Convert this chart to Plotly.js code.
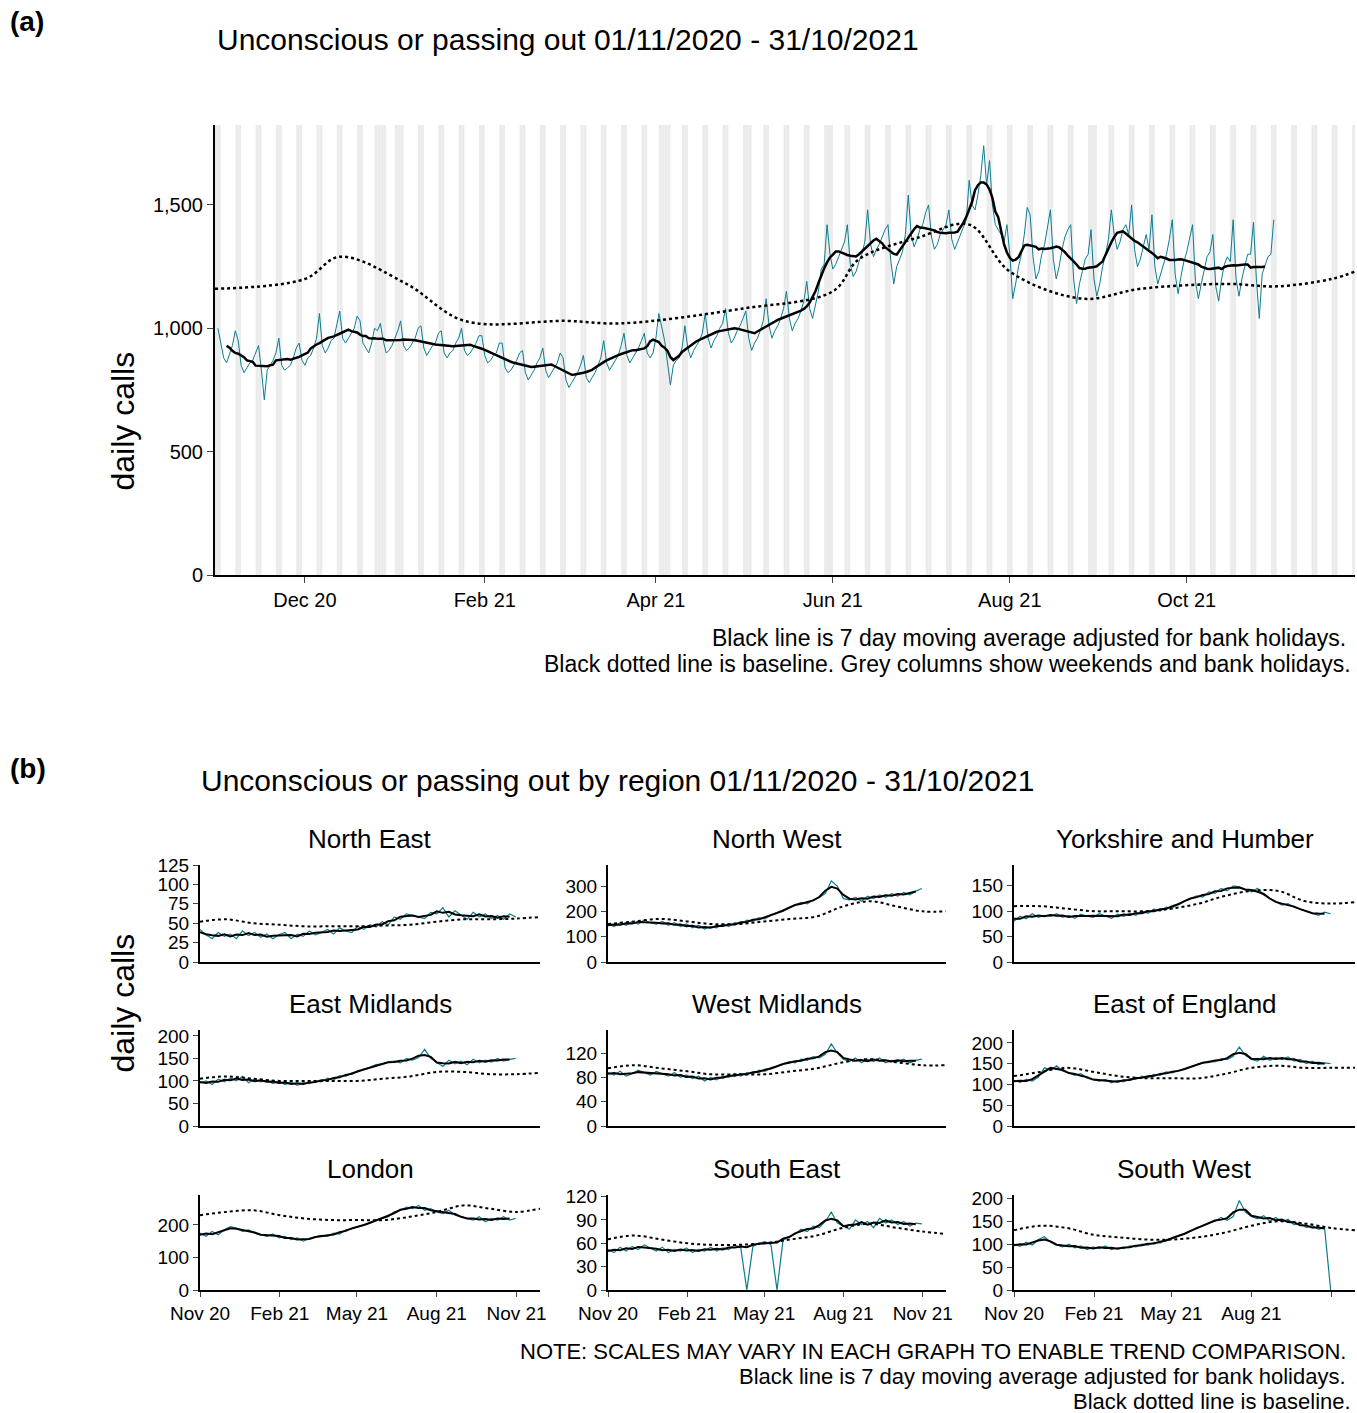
<!DOCTYPE html>
<html>
<head>
<meta charset="utf-8">
<script src="https://cdn.plot.ly/plotly-3.0.1.min.js"></script>
<style>body{margin:0;background:#fff}</style>
</head>
<body>
<div id="chart" style="width:1357px;height:1413px"></div>
<script>
// daily calls, week by week from Sun 01/11/2020
var dailyCalls = [
 1000,940,880,860,900,930,990, 950,850,820,840,860,870,900, 930,830,710,830,850,870,900,
 960,850,830,840,850,880,920, 940,870,850,880,890,920,960, 1060,930,900,920,950,960,1010,
 1070,960,940,960,980,1000,1050, 1030,940,920,900,940,1000,990, 1020,950,900,910,930,960,990,
 1030,930,910,920,940,960,1000, 1010,920,890,910,930,940,980, 990,900,880,900,910,940,960,
 1000,910,890,900,920,940,970, 970,890,860,870,890,900,940, 940,840,820,830,850,870,900,
 910,820,790,810,830,860,880, 920,830,800,820,840,860,900, 880,790,760,780,800,820,850,
 890,800,780,800,820,850,880, 950,860,830,850,870,890,930, 980,890,860,880,900,920,950,
 980,900,880,900,960,1060,1000, 950,860,770,850,870,880,920, 1010,920,880,910,930,950,980,
 1060,960,920,950,970,1000,1020, 1080,980,940,960,990,1010,1040, 1070,960,910,940,960,990,1030,
 1120,1010,960,990,1010,1040,1080, 1150,1040,990,1020,1040,1070,1110, 1190,1080,1040,1090,1150,1240,1260,
 1420,1300,1240,1260,1290,1320,1350, 1420,1260,1210,1230,1270,1300,1350, 1480,1340,1290,1320,1340,1370,1400,
 1420,1270,1180,1250,1280,1310,1380, 1540,1380,1330,1360,1400,1420,1470, 1500,1370,1320,1340,1380,1400,1420,
 1480,1360,1320,1350,1380,1410,1440, 1600,1500,1480,1540,1620,1740,1580, 1680,1500,1420,1400,1380,1350,1420,
 1300,1120,1180,1250,1300,1380,1490, 1460,1290,1200,1230,1300,1340,1420, 1480,1280,1200,1250,1320,1370,1400,
 1420,1200,1100,1180,1230,1280,1300, 1400,1200,1130,1180,1250,1300,1360, 1480,1380,1320,1350,1400,1420,1380,
 1500,1320,1250,1280,1330,1380,1320, 1460,1250,1180,1220,1260,1300,1360, 1440,1220,1140,1210,1270,1310,1370,
 1420,1190,1120,1180,1240,1290,1310, 1380,1170,1110,1200,1260,1290,1270, 1440,1200,1130,1200,1250,1300,1300,
 1430,1200,1040,1220,1260,1290,1300, 1440
];
var baselineDates = ['2020-10-31','2020-12-01','2020-12-13','2021-01-05','2021-01-25','2021-03-01','2021-03-20',
  '2021-05-01','2021-06-01','2021-06-10','2021-07-01','2021-07-18','2021-08-01','2021-08-26','2021-09-15',
  '2021-10-15','2021-11-01','2021-11-20','2021-11-28'];
var baselineCalls = [1160,1200,1290,1180,1030,1030,1020,1080,1150,1280,1370,1420,1230,1120,1160,1180,1170,1200,1230];
var bankHolidays = ['2020-12-25','2020-12-28','2021-01-01','2021-04-02','2021-04-05','2021-05-03','2021-05-31','2021-08-30'];

var regionNames = ['North East','North West','Yorkshire and Humber','East Midlands','West Midlands',
  'East of England','London','South East','South West'];
// weekly values from 01/11/2020
var regionCalls = [
 [42,35,30,38,33,36,30,40,34,38,32,36,30,35,38,30,36,33,40,35,38,42,36,44,40,38,46,42,48,45,52,48,58,55,62,60,58,56,64,62,70,58,66,60,55,64,58,62,56,60,55,62,58],
 [150,140,155,145,160,150,165,155,150,160,145,155,140,150,135,145,130,140,135,150,140,155,150,165,160,175,170,185,195,200,215,225,235,230,245,255,270,320,300,250,245,255,240,260,250,265,255,270,260,275,265,280,290],
 [80,90,85,95,88,92,90,95,88,92,86,94,90,88,95,90,86,94,90,96,92,100,96,104,100,108,106,115,120,125,130,128,138,135,145,140,150,148,142,138,145,132,125,118,112,115,108,104,100,96,92,98,95],
 [95,100,92,104,98,106,100,110,96,104,98,102,94,100,92,98,90,96,94,100,98,106,102,112,110,118,120,126,130,136,138,142,144,140,150,146,152,170,150,140,132,146,138,144,136,148,140,146,142,150,144,148,150],
 [88,84,90,82,86,92,88,84,90,86,82,88,80,84,78,82,74,80,76,82,80,86,82,88,86,92,90,96,98,102,106,104,110,108,114,112,118,135,120,110,106,112,104,110,106,112,104,108,106,110,104,108,110],
 [110,105,112,108,118,140,135,145,132,128,122,126,115,112,108,112,104,110,106,114,112,120,116,124,122,130,128,134,136,142,148,152,156,154,162,160,168,190,170,160,156,168,158,165,160,166,156,160,150,156,148,152,150],
 [175,165,180,170,185,195,190,180,185,175,170,165,172,160,165,155,160,150,158,162,168,165,175,172,185,188,195,200,205,215,220,225,240,245,255,250,260,245,250,240,235,245,230,225,220,215,225,210,220,215,225,215,220],
 [52,48,55,50,56,52,58,54,50,55,48,52,50,54,48,52,50,55,50,54,52,58,54,0,56,60,62,58,0,64,68,72,78,75,82,80,88,100,86,82,78,90,84,88,80,92,86,90,84,88,82,86,85],
 [100,95,104,98,110,116,104,98,94,100,92,96,88,94,90,96,88,92,90,96,94,100,98,104,102,110,112,118,122,128,136,140,146,150,158,152,160,195,170,160,155,162,150,158,148,154,142,146,136,140,132,136,0]
];
// monthly baseline, 01/11/2020 .. 28/11/2021
var baselineMonths = ['2020-11-01','2020-12-01','2021-01-01','2021-02-01','2021-03-01','2021-04-01','2021-05-01',
  '2021-06-01','2021-07-01','2021-08-01','2021-09-01','2021-10-01','2021-11-01','2021-11-28'];
var regionBaseline = [
 [52,55,50,48,46,46,46,47,48,52,55,55,56,58],
 [150,160,170,160,150,150,160,170,180,220,240,220,200,200],
 [110,110,105,100,100,100,105,115,130,140,140,120,115,118],
 [105,110,105,100,100,100,100,105,110,120,120,115,115,118],
 [95,100,95,90,85,85,85,90,95,105,110,105,100,100],
 [120,130,140,130,120,115,115,115,125,140,145,140,140,140],
 [230,240,245,230,220,215,215,215,225,240,260,250,240,250],
 [65,70,65,60,58,58,60,65,70,80,85,80,75,72],
 [130,140,135,120,115,110,110,115,125,140,150,145,135,130]
];
var regionRange = [125,383,191,213,158,231,292,122,207];
var regionTicks = [[0,25,50,75,100,125],[0,100,200,300],[0,50,100,150],[0,50,100,150,200],
  [0,40,80,120],[0,50,100,150,200],[0,100,200],[0,30,60,90,120],[0,50,100,150,200]];

var TEAL = '#0c7c8f';
var W = 1357, H = 1413;
function px(x){ return x / W; }
function py(y){ return 1 - y / H; }
function iso(d){ return d.toISOString().slice(0,10); }
function addDays(s, n){ var d = new Date(s + 'T00:00:00Z'); d.setUTCDate(d.getUTCDate() + n); return iso(d); }

var dailyDates = dailyCalls.map(function(v, i){ return addDays('2020-11-01', i); });
var maDates = [], maCalls = [];
for (var i = 3; i < dailyCalls.length - 3; i++) {
    var s = 0;
    for (var k = -3; k <= 3; k++) s += dailyCalls[i + k];
    maDates.push(dailyDates[i]); maCalls.push(s / 7);
}

var traces = [
    {x: dailyDates, y: dailyCalls, type: 'scatter', mode: 'lines', line: {color: TEAL, width: 1}, xaxis: 'x', yaxis: 'y', hoverinfo: 'skip'},
    {x: baselineDates, y: baselineCalls, type: 'scatter', mode: 'lines', line: {color: '#000', width: 2.5, dash: 'dot', shape: 'spline'}, xaxis: 'x', yaxis: 'y'},
    {x: maDates, y: maCalls, type: 'scatter', mode: 'lines', line: {color: '#000', width: 2.5}, xaxis: 'x', yaxis: 'y'}
];

function note(text, x, y, anchor, size){
    return {text: text, x: px(x), y: py(y), xref: 'paper', yref: 'paper', xanchor: anchor, yanchor: 'middle', showarrow: false, font: {size: size}};
}

var layout = {
    width: W, height: H, showlegend: false,
    margin: {l: 0, r: 0, t: 0, b: 0},
    paper_bgcolor: '#fff', plot_bgcolor: 'rgba(0,0,0,0)',
    font: {family: 'Liberation Sans, Arial, sans-serif', color: '#000', size: 18},
    xaxis: {domain: [px(215), px(1355)], range: ['2020-10-31', '2021-11-28'], anchor: 'y',
        tick0: '2020-12-01', dtick: 'M2', tickformat: '%b %y', ticks: 'outside', ticklen: 6,
        showline: true, linecolor: '#000', linewidth: 2, showgrid: false, zeroline: false, tickfont: {size: 20}},
    yaxis: {domain: [py(575), py(125)], range: [0, 1824], anchor: 'x', tickvals: [0, 500, 1000, 1500],
        ticktext: ['0', '500', '1,000', '1,500'], ticks: 'outside', ticklen: 6,
        showline: true, linecolor: '#000', linewidth: 2, showgrid: false, zeroline: false, tickfont: {size: 20}},
    shapes: [],
    annotations: [
        note('<b>(a)</b>', 8, 22, 'left', 28),
        note('<b>(b)</b>', 8, 768, 'left', 28),
        note('Unconscious or passing out 01/11/2020 - 31/10/2021', 215, 40, 'left', 30),
        note('Unconscious or passing out by region 01/11/2020 - 31/10/2021', 199, 780, 'left', 30),
        {text: 'daily calls', x: px(122), y: py(350), xref: 'paper', yref: 'paper', xanchor: 'center', textangle: -90, showarrow: false, font: {size: 32}},
        {text: 'daily calls', x: px(122), y: py(1075), xref: 'paper', yref: 'paper', xanchor: 'center', textangle: -90, showarrow: false, font: {size: 32}},
        note('Black line is 7 day moving average adjusted for bank holidays.', 1348, 638, 'right', 23),
        note('Black dotted line is baseline. Grey columns show weekends and bank holidays.', 1353, 664, 'right', 23),
        note('NOTE: SCALES MAY VARY IN EACH GRAPH TO ENABLE TREND COMPARISON.', 1348, 1351, 'right', 22),
        note('Black line is 7 day moving average adjusted for bank holidays.', 1348, 1376, 'right', 22),
        note('Black dotted line is baseline.', 1353, 1401, 'right', 22)
    ]
};

// weekends and bank holidays as grey columns
for (var d = 0; d < 394; d++) {
    var day = addDays('2020-10-31', d);
    var wd = new Date(day + 'T00:00:00Z').getUTCDay();
    if (wd === 0 || wd === 6 || bankHolidays.indexOf(day) >= 0) {
        layout.shapes.push({type: 'rect', xref: 'x', yref: 'paper', x0: day, x1: addDays(day, 1),
            y0: py(575), y1: py(125), fillcolor: '#ebebeb', line: {width: 0}, layer: 'below'});
    }
}

var colX = [[200, 540], [608, 946], [1014, 1355]];
var rowY = [[865, 962], [1030, 1126], [1195, 1290]];
var weekDates = regionCalls[0].map(function(v, i){ return addDays('2020-11-01', 7 * i); });

regionNames.forEach(function(name, r){
    var n = r + 2, col = r % 3, row = Math.floor(r / 3);
    var xa = 'x' + n, ya = 'y' + n;
    var vals = regionCalls[r];
    var ma = vals.map(function(v, i){
        var s = 0, c = 0;
        for (var k = -1; k <= 1; k++) {
            var w = vals[i + k];
            if (w !== undefined && w > 0) { s += w; c++; }
        }
        return c ? s / c : null;
    });
    traces.push({x: weekDates, y: vals, type: 'scatter', mode: 'lines', line: {color: TEAL, width: 1.2}, xaxis: xa, yaxis: ya});
    traces.push({x: baselineMonths, y: regionBaseline[r], type: 'scatter', mode: 'lines', line: {color: '#000', width: 2, dash: 'dot', shape: 'spline'}, xaxis: xa, yaxis: ya});
    traces.push({x: weekDates.slice(0, -1), y: ma.slice(0, -1), type: 'scatter', mode: 'lines', line: {color: '#000', width: 2}, xaxis: xa, yaxis: ya});
    layout['xaxis' + n] = {domain: [px(colX[col][0]), px(colX[col][1])], range: ['2020-11-01', '2021-11-28'], anchor: ya,
        tick0: '2020-11-01', dtick: 'M3', tickformat: '%b %y', ticks: row === 2 ? 'outside' : '', ticklen: 5,
        showticklabels: row === 2, showline: true, linecolor: '#000', linewidth: 2, showgrid: false, zeroline: false, tickfont: {size: 19}};
    layout['yaxis' + n] = {domain: [py(rowY[row][1]), py(rowY[row][0])], range: [0, regionRange[r]], anchor: xa,
        tickvals: regionTicks[r], ticks: 'outside', ticklen: 5, showline: true, linecolor: '#000', linewidth: 2,
        showgrid: false, zeroline: false, tickfont: {size: 19}};
    layout.annotations.push(note(name, (colX[col][0] + colX[col][1]) / 2, rowY[row][0] - 26, 'center', 26));
});

Plotly.newPlot('chart', traces, layout, {displayModeBar: false});
</script>
</body>
</html>
